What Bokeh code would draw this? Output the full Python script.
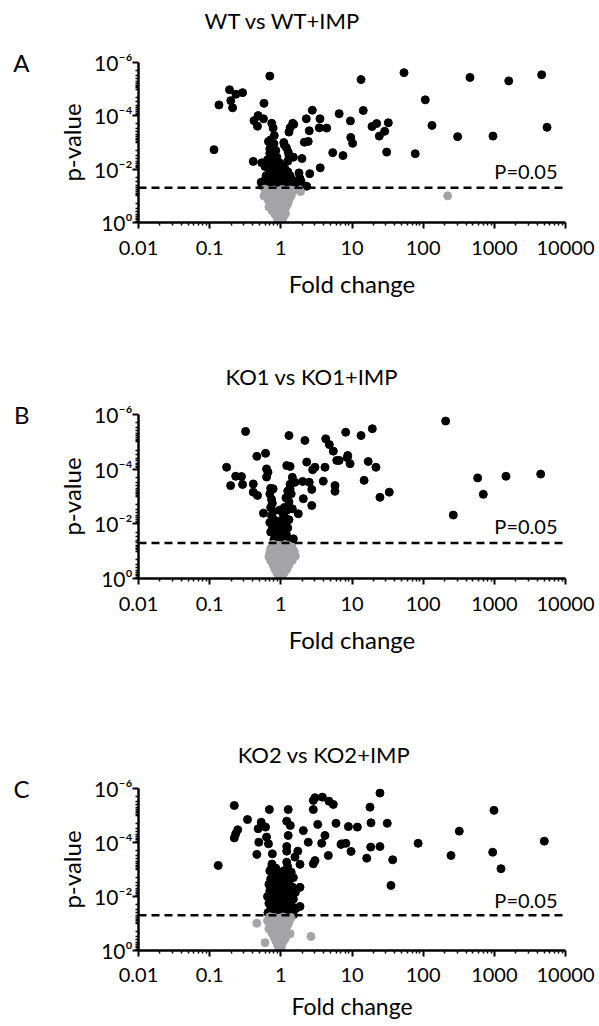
from bokeh.plotting import figure
from bokeh.layouts import column
from bokeh.models import Range1d, FixedTicker, Span, Label, LogAxis
from bokeh.embed import file_html
from bokeh.resources import INLINE

FONT = "Lato"

# ---------------- data (fold change, -log10 p) ----------------
titles = ["WT vs WT+IMP", "KO1 vs KO1+IMP", "KO2 vs KO2+IMP"]
letters = ["A", "B", "C"]
x_tick_vals = [0.01, 0.1, 1, 10, 100, 1000, 10000]
x_tick_text = ["0.01", "0.1", "1", "10", "100", "1000", "10000"]
y_tick_vals = [1, 1e-2, 1e-4, 1e-6]
y_tick_text = ["10\u2070", "10\u207b\u00b2", "10\u207b\u2074", "10\u207b\u2076"]
threshold = 0.05
threshold_text = "P=0.05"

# Panel A (significant, black)
a_sig_fc = [0.135, 0.21, 0.198, 0.19, 0.234, 0.29, 0.70, 0.58, 0.115, 13.4, 53.8, 455, 1592, 4624, 107,
            14.4, 2.77, 6.6, 3.55, 2.28, 1.47, 1.35, 1.30, 9.5, 19.1, 22.2, 32.4, 28.8, 24.2, 133, 305, 957,
            5500, 9.6, 10.2, 3.47, 4.41, 2.51, 2.43, 2.14, 1.12, 5.36, 7.47, 30.7, 77.4, 1.98, 3.58, 2.55,
            1.86, 0.42, 0.48, 0.57, 0.745, 0.47, 0.78, 0.81, 0.67, 0.70, 0.78, 0.41, 0.54, 0.53, 1.52, 1.27,
            1.50, 1.80, 1.92, 2.31,
            0.72, 0.80, 0.75, 0.85, 0.70, 0.78, 0.88, 0.65, 0.82, 0.95, 0.72, 1.05, 0.60, 0.85, 1.15, 0.68,
            0.92, 1.25, 0.78, 1.05, 0.62, 1.35, 0.88, 0.72, 1.18, 0.98, 0.58, 1.45, 0.82, 1.10, 0.68, 1.28,
            0.92, 0.55, 1.55, 0.76, 1.02, 1.20, 0.64, 0.86, 1.40, 1.30, 1.20, 1.10, 1.25]
a_sig_mlogp = [4.41, 4.30, 4.57, 4.98, 4.81, 4.87, 5.49, 4.47, 2.73, 5.36, 5.62, 5.44, 5.31, 5.54, 4.60,
               4.20, 4.21, 4.08, 3.89, 3.89, 3.72, 3.55, 3.39, 3.81, 3.60, 3.71, 3.74, 3.42, 3.24, 3.64, 3.22, 3.24,
               3.57, 3.19, 2.97, 3.55, 3.54, 3.44, 3.04, 3.01, 2.91, 2.62, 2.51, 2.64, 2.58, 2.40, 2.05, 1.83,
               1.65, 3.82, 4.01, 3.89, 3.72, 3.61, 3.54, 3.26, 3.04, 2.76, 2.54, 2.29, 2.24, 1.51, 3.68, 2.64,
               2.45, 1.86, 1.54, 1.36,
               3.10, 2.95, 2.85, 2.70, 2.60, 2.50, 2.45, 2.35, 2.30, 2.25, 2.20, 2.15, 2.10, 2.05, 2.00, 1.95,
               1.90, 1.90, 1.85, 1.80, 1.75, 1.75, 1.70, 1.65, 1.65, 1.60, 1.55, 1.60, 1.50, 1.50, 1.45, 1.45,
               1.40, 1.38, 1.40, 1.35, 1.34, 1.33, 1.32, 1.31, 1.31, 2.50, 2.80, 3.00, 2.30]
# Panel A (not significant, grey)
a_ns_fc = [0.60, 0.70, 0.80, 0.92, 1.05, 1.20, 1.35, 1.50, 0.65, 0.75, 0.88, 1.00, 1.12, 1.28, 0.58, 0.70,
           0.82, 0.95, 1.08, 1.22, 1.40, 0.66, 0.78, 0.90, 1.02, 1.15, 1.30, 0.72, 0.85, 0.98, 1.10, 1.25,
           0.68, 0.80, 0.92, 1.05, 1.18, 0.75, 0.88, 1.00, 1.12, 0.82, 0.95, 1.06, 1.16, 0.88, 0.98, 1.08,
           0.92, 1.02, 1.00, 1.89, 221]
a_ns_mlogp = [1.25, 1.20, 1.22, 1.18, 1.24, 1.20, 1.22, 1.20, 1.10, 1.05, 1.08, 1.10, 1.06, 1.10, 1.00, 0.95,
              0.92, 0.97, 0.94, 0.98, 1.00, 0.85, 0.80, 0.82, 0.85, 0.80, 0.84, 0.70, 0.68, 0.72, 0.66, 0.70,
              0.58, 0.55, 0.60, 0.52, 0.56, 0.45, 0.42, 0.40, 0.44, 0.32, 0.30, 0.28, 0.33, 0.20, 0.15, 0.18,
              0.08, 0.04, 0.00, 1.16, 1.00]

# Panel B
b_sig_fc = [0.32, 1.30, 2.18, 4.27, 8.15, 13.4, 19.3, 4.80, 5.46, 0.61, 0.46, 0.173, 0.232, 0.28, 0.197,
            0.29, 0.41, 0.63, 0.66, 1.21, 1.35, 2.31, 3.02, 4.17, 6.1, 8.6, 9.4, 5.77, 5.77, 3.95, 2.72, 2.72,
            2.07, 1.76, 1.50, 0.41, 0.47, 1.58, 1.35, 0.57, 207, 2.8, 6.6, 8.7, 16.9, 21.7, 14.8, 24.7, 33.4,
            2.51, 583, 1458, 4480, 700, 265, 2.03, 0.78, 0.63,
            0.72, 0.70, 0.74, 0.76, 0.72, 0.78, 0.74, 0.80, 0.70, 0.82, 0.76, 0.86, 0.72, 0.84, 0.90, 0.80,
            0.94, 1.45, 1.35, 1.25, 1.40, 1.18, 1.30, 1.12, 1.22, 1.45, 1.08, 1.16, 1.30, 1.04, 1.12, 1.25,
            1.00, 1.10, 1.20, 1.05, 1.15, 0.96, 0.98, 0.92, 1.00]
b_sig_mlogp = [5.38, 5.23, 5.05, 5.11, 5.35, 5.23, 5.48, 4.90, 4.66, 4.58, 4.47, 4.07, 3.74, 3.73, 3.40,
               3.44, 3.46, 4.01, 3.89, 4.13, 4.10, 4.26, 4.07, 4.07, 4.32, 4.42, 4.20, 3.40, 3.19, 3.56, 3.26, 2.67,
               2.92, 2.37, 1.45, 3.16, 3.04, 3.52, 3.28, 2.39, 5.76, 3.98, 4.32, 4.50, 4.28, 4.07, 3.59, 2.97, 3.16,
               3.52, 3.68, 3.74, 3.82, 3.08, 2.32, 3.55, 3.28, 3.71,
               3.30, 3.10, 2.90, 2.75, 2.60, 2.45, 2.30, 2.15, 2.05, 1.95, 1.85, 1.75, 1.70, 1.60, 1.50, 1.42,
               1.35, 3.70, 3.45, 3.20, 3.10, 2.95, 2.80, 2.60, 2.50, 2.55, 2.35, 2.20, 2.15, 2.00, 1.90, 1.85,
               1.75, 1.65, 1.60, 1.45, 1.38, 2.50, 2.10, 1.90, 1.55]
b_ns_fc = [0.78, 0.90, 1.02, 1.15, 1.30, 0.72, 0.85, 0.98, 1.10, 1.25, 1.45, 0.70, 0.82, 0.95, 1.08, 1.20,
           1.40, 1.55, 0.68, 0.80, 0.92, 1.05, 1.18, 1.35, 1.60, 0.72, 0.85, 0.98, 1.12, 1.28, 1.45, 0.78,
           0.90, 1.02, 1.15, 1.30, 0.82, 0.95, 1.08, 1.22, 0.88, 1.00, 1.12, 0.95, 1.05, 1.00]
b_ns_mlogp = [1.25, 1.22, 1.20, 1.24, 1.20, 1.10, 1.08, 1.05, 1.10, 1.06, 1.12, 0.95, 0.92, 0.90, 0.95, 0.90,
              0.93, 0.98, 0.80, 0.78, 0.75, 0.80, 0.76, 0.80, 0.82, 0.65, 0.62, 0.60, 0.64, 0.60, 0.66, 0.50,
              0.46, 0.48, 0.45, 0.50, 0.35, 0.32, 0.30, 0.34, 0.20, 0.18, 0.22, 0.08, 0.05, 0.00]

# Panel C
c_sig_fc = [0.222, 0.69, 1.27, 2.86, 3.02, 3.83, 4.75, 5.46, 2.86, 0.34, 0.53, 0.48, 0.61, 1.21, 1.36, 2.07,
            3.30, 5.96, 0.248, 0.232, 0.222, 0.49, 0.63, 0.67, 1.27, 2.43, 4.17, 3.75, 7.16, 1.21, 0.46, 0.76,
            1.21, 1.73, 1.58, 1.86, 3.02, 2.86, 4.65, 0.745, 1.21, 1.86, 1.86, 24.7, 17.9, 989, 322, 85, 246,
            948, 1240, 5040, 31.3, 18.5, 11.9, 8.9, 7.0, 8.2, 9.7, 18.3, 24.7, 16.1, 37.3, 35.3, 0.132,
            0.75, 0.85, 1.25, 0.70, 1.10, 1.40, 0.80, 0.95, 1.20, 0.72, 1.05, 1.50, 0.88, 1.30, 0.68, 1.00,
            1.15, 0.80, 1.45, 0.92, 1.25, 0.70, 1.08, 1.60, 0.85, 1.35, 0.65, 0.98, 1.18, 0.78, 1.50, 0.90,
            1.05, 1.28, 0.68, 0.82, 1.15, 1.42, 0.95, 0.72, 1.22, 1.62, 0.88, 1.05, 1.35, 0.66, 0.80, 0.98,
            1.15, 1.28, 1.50, 0.74, 0.90]
c_sig_mlogp = [5.37, 5.22, 5.22, 5.56, 5.66, 5.68, 5.53, 5.41, 5.22, 4.85, 4.75, 4.51, 4.57, 4.79, 4.63, 4.44,
               4.67, 4.71, 4.47, 4.32, 4.17, 4.01, 4.20, 3.95, 4.26, 4.01, 4.26, 3.97, 3.95, 3.85, 3.56, 3.58,
               3.68, 3.68, 3.46, 3.19, 3.33, 3.21, 3.52, 3.09, 3.27, 2.34, 1.63, 5.83, 5.31, 5.19, 4.42, 3.97, 3.52,
               3.64, 3.03, 4.05, 4.71, 4.73, 4.57, 4.59, 3.93, 3.97, 3.67, 3.83, 3.85, 3.42, 3.36, 2.41, 3.15,
               3.20, 3.05, 3.10, 2.95, 2.95, 2.90, 2.80, 2.80, 2.75, 2.65, 2.65, 2.70, 2.55, 2.55, 2.45, 2.45,
               2.40, 2.35, 2.35, 2.25, 2.25, 2.20, 2.15, 2.15, 2.10, 2.05, 2.00, 2.00, 1.95, 1.90, 1.90, 1.85,
               1.80, 1.78, 1.75, 1.70, 1.68, 1.65, 1.60, 1.55, 1.55, 1.55, 1.48, 1.45, 1.45, 1.40, 1.38, 1.36,
               1.34, 1.33, 1.32, 1.32, 1.31]
c_ns_fc = [0.70, 0.82, 0.95, 1.08, 1.22, 1.40, 0.65, 0.78, 0.90, 1.02, 1.15, 1.30, 0.72, 0.85, 0.98, 1.10,
           1.25, 0.68, 0.80, 0.92, 1.05, 1.18, 0.75, 0.88, 1.00, 1.12, 0.80, 0.92, 1.05, 1.15, 0.85, 0.96,
           1.08, 0.90, 1.02, 0.95, 1.00, 0.46, 2.65, 0.60, 1.35]
c_ns_mlogp = [1.25, 1.22, 1.20, 1.24, 1.20, 1.22, 1.10, 1.08, 1.12, 1.06, 1.10, 1.05, 0.95, 0.92, 0.96, 0.90,
              0.94, 0.80, 0.78, 0.82, 0.76, 0.80, 0.65, 0.62, 0.66, 0.60, 0.50, 0.46, 0.48, 0.44, 0.35, 0.30,
              0.33, 0.20, 0.16, 0.08, 0.02, 1.01, 0.52, 0.29, 0.62]

# ---------------- layout constants ----------------
W = 599
FRAME_LEFT = 138
FRAME_W = 427
panels = [
    dict(height=330, top=62, fh=160, title_x=1.06, title_standoff=29, label_px=16.5,
         tick_standoff=12, xlab_standoff=11, xlab_size="24px"),
    dict(height=370, top=84, fh=164, title_x=2.72, title_standoff=25, label_px=16.5,
         tick_standoff=12, xlab_standoff=11, xlab_size="24px"),
    dict(height=326, top=88, fh=162, title_x=4.04, title_standoff=21, label_px=15.0,
         tick_standoff=11, xlab_standoff=7, xlab_size="23px"),
]
data = [
    (a_sig_fc, a_sig_mlogp, a_ns_fc, a_ns_mlogp),
    (b_sig_fc, b_sig_mlogp, b_ns_fc, b_ns_mlogp),
    (c_sig_fc, c_sig_mlogp, c_ns_fc, c_ns_mlogp),
]

x_minor = [m * 10.0 ** k for k in range(-2, 4) for m in range(2, 10)]
y_minor = [m * 10.0 ** (-k) for k in range(1, 7) for m in range(1, 10)
           if not (m == 1 and k % 2 == 0)]


def bare_axis(ax, size, standoff):
    ax.axis_line_color = None
    ax.major_tick_line_color = None
    ax.minor_tick_line_color = None
    ax.major_tick_out = 0
    ax.major_tick_in = 0
    ax.minor_tick_out = 0
    ax.minor_tick_in = 0
    ax.major_label_standoff = standoff
    ax.major_label_text_font = FONT
    ax.major_label_text_font_size = size
    ax.major_label_text_font_style = "normal"
    ax.major_label_text_color = "black"


def make_panel(i):
    cfg = panels[i]
    sfc, smp, nfc, nmp = data[i]
    p = figure(width=W, height=cfg["height"], x_axis_type="log", y_axis_type="log",
               x_range=Range1d(0.01, 10000), y_range=Range1d(1, 1e-6), title=None,
               output_backend="svg", toolbar_location=None,
               min_border_left=FRAME_LEFT, min_border_right=W - FRAME_LEFT - FRAME_W,
               min_border_top=cfg["top"],
               min_border_bottom=cfg["height"] - cfg["top"] - cfg["fh"])
    p.outline_line_color = None
    p.xgrid.visible = False
    p.ygrid.visible = False
    p.background_fill_color = "white"
    p.border_fill_color = "white"

    s_p = [10.0 ** (-v) for v in smp]
    n_p = [10.0 ** (-v) for v in nmp]
    p.scatter(sfc, s_p, size=8, fill_color="black", line_color="black")
    p.scatter(nfc, n_p, size=8, fill_color="#a4a4a8", line_color="#a4a4a8")

    p.add_layout(Span(location=threshold, dimension="width", line_color="black",
                      line_width=2.5, line_dash="8 5"))
    ppd = cfg["fh"] / 6.0
    p.add_layout(Label(x=10000, y=threshold * 10 ** (-cfg["label_px"] / ppd), x_offset=-8,
                       text=threshold_text, text_align="right", text_baseline="alphabetic",
                       text_font=FONT, text_font_size="20px", text_color="black"))

    xa = p.xaxis[0]
    xa.ticker = FixedTicker(ticks=x_tick_vals, minor_ticks=x_minor)
    xa.major_label_overrides = dict(zip(x_tick_vals, x_tick_text))
    xa.axis_label = "Fold change"
    ya = p.yaxis[0]
    ya.ticker = FixedTicker(ticks=y_tick_vals, minor_ticks=y_minor)
    ya.major_label_overrides = dict(zip(y_tick_vals, y_tick_text))
    ya.axis_label = "p-value"

    for ax in (xa, ya):
        ax.axis_line_width = 2.5
        ax.axis_line_color = "black"
        ax.major_tick_line_width = 2
        ax.minor_tick_line_width = 1.5
        ax.major_tick_line_color = "black"
        ax.minor_tick_line_color = "black"
        ax.major_tick_out = 6
        ax.major_tick_in = 0
        ax.minor_tick_out = 3
        ax.minor_tick_in = 0
        ax.major_label_text_font = FONT
        ax.major_label_text_font_size = "20px"
        ax.major_label_text_color = "black"
        ax.axis_label_text_font = FONT
        ax.axis_label_text_font_size = "24px"
        ax.axis_label_text_font_style = "normal"
        ax.axis_label_text_color = "black"
    xa.major_label_standoff = cfg["tick_standoff"]
    xa.axis_label_standoff = cfg["xlab_standoff"]
    xa.axis_label_text_font_size = cfg["xlab_size"]
    ya.major_label_standoff = 0
    ya.axis_label_standoff = 5
    ya.major_label_text_font_size = "21px"

    # panel title, drawn as the single label of a bare axis above the frame
    tx = cfg["title_x"]
    ta = LogAxis(ticker=FixedTicker(ticks=[tx], minor_ticks=[]),
                 major_label_overrides={tx: titles[i]})
    bare_axis(ta, "22px", cfg["title_standoff"])
    p.add_layout(ta, "above")

    # panel letter, drawn as the single label of a bare axis left of the y axis
    la = LogAxis(ticker=FixedTicker(ticks=[1e-6], minor_ticks=[]),
                 major_label_overrides={1e-6: letters[i]})
    bare_axis(la, "24px", 25)
    p.add_layout(la, "left")
    return p


figs = [make_panel(i) for i in range(3)]
layout = column(*figs)
open("out.html", "w").write(file_html(layout, INLINE))
